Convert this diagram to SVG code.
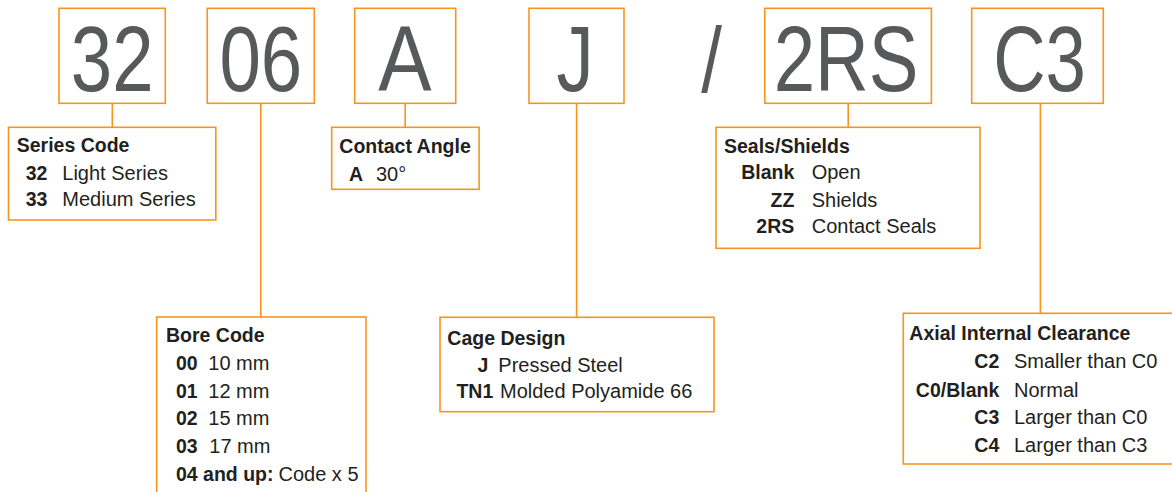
<svg xmlns="http://www.w3.org/2000/svg" width="1172" height="492" viewBox="0 0 1172 492">
<style>
.box{fill:#ffffff;stroke:#f7941d;stroke-width:1.6}
.con{stroke:#f7941d;stroke-width:1.6;fill:none}
.big{font-family:"Liberation Sans",Arial,sans-serif;font-size:93px;fill:#58595b;text-anchor:middle}
.h{font-family:"Liberation Sans",Arial,sans-serif;font-size:19.5px;font-weight:bold;fill:#231f20}
.k{font-family:"Liberation Sans",Arial,sans-serif;font-size:19.5px;font-weight:bold;fill:#231f20}
.kr{font-family:"Liberation Sans",Arial,sans-serif;font-size:19.5px;font-weight:bold;fill:#231f20;text-anchor:end}
.v{font-family:"Liberation Sans",Arial,sans-serif;font-size:20px;fill:#231f20}
</style>
<rect width="1172" height="492" fill="#ffffff"/>
<g id="connectors">
<line class="con" x1="112.3" y1="103.3" x2="112.3" y2="127.3"/>
<line class="con" x1="260.8" y1="103.3" x2="260.8" y2="317"/>
<line class="con" x1="405.2" y1="103.3" x2="405.2" y2="127.3"/>
<line class="con" x1="576.6" y1="103.3" x2="576.6" y2="317.3"/>
<line class="con" x1="848.2" y1="103.3" x2="848.2" y2="127.3"/>
<line class="con" x1="1040.4" y1="103.3" x2="1040.4" y2="313.3"/>
</g>
<g id="code-32">
<rect class="box" x="59" y="8.3" width="106.3" height="95"/>
<text class="big" transform="translate(112.2,90.7) scale(0.8,1)">32</text>
</g>
<g id="code-06">
<rect class="box" x="207.3" y="8.3" width="107" height="95"/>
<text class="big" transform="translate(260.8,90.7) scale(0.8,1)">06</text>
</g>
<g id="code-A">
<rect class="box" x="354.7" y="8.3" width="101" height="95"/>
<text class="big" transform="translate(405,90.7) scale(0.86,1)">A</text>
</g>
<g id="code-J">
<rect class="box" x="529" y="8.3" width="95" height="95"/>
<text class="big" transform="translate(575,90.7) scale(0.8,1)">J</text>
</g>
<g id="slash">
<text class="big" transform="translate(711.7,92) scale(0.8,1)">/</text>
</g>
<g id="code-2RS">
<rect class="box" x="764.8" y="8.3" width="166.6" height="95"/>
<text class="big" transform="translate(846,90.7) scale(0.8,1)">2RS</text>
</g>
<g id="code-C3">
<rect class="box" x="971.7" y="8.3" width="131.6" height="95"/>
<text class="big" transform="translate(1039.5,90.7) scale(0.78,1)">C3</text>
</g>
<g id="series-code">
<rect class="box" x="8.5" y="127.3" width="207.3" height="92.7"/>
<text class="h" x="16.7" y="152.3">Series Code</text>
<text class="k" x="25.7" y="180">32</text><text class="v" x="62.3" y="180">Light Series</text>
<text class="k" x="25.7" y="206">33</text><text class="v" x="62.3" y="206">Medium Series</text>
</g>
<g id="contact-angle">
<rect class="box" x="331.7" y="127.3" width="147.4" height="62"/>
<text class="h" x="339.3" y="153.3">Contact Angle</text>
<text class="k" x="349" y="181">A</text><text class="v" x="376" y="181">30°</text>
</g>
<g id="bore-code">
<rect class="box" x="156.7" y="317" width="209.3" height="190"/>
<text class="h" x="166" y="341.7">Bore Code</text>
<text class="k" x="176" y="370">00</text><text class="v" x="208.3" y="370">10 mm</text>
<text class="k" x="176" y="397.7">01</text><text class="v" x="208.3" y="397.7">12 mm</text>
<text class="k" x="176" y="425">02</text><text class="v" x="208.3" y="425">15 mm</text>
<text class="k" x="176" y="452.7">03</text><text class="v" x="209.3" y="452.7">17 mm</text>
<text class="k" x="176" y="480.7">04 and up:</text><text class="v" x="278.5" y="480.7">Code x 5</text>
</g>
<g id="cage-design">
<rect class="box" x="440" y="317.3" width="274" height="94.4"/>
<text class="h" x="447.3" y="345">Cage Design</text>
<text class="kr" x="488.3" y="372.3">J</text><text class="v" x="498.3" y="372.3">Pressed Steel</text>
<text class="kr" x="493.3" y="398.3">TN1</text><text class="v" x="500" y="398.3">Molded Polyamide 66</text>
</g>
<g id="seals-shields">
<rect class="box" x="716" y="127.3" width="264" height="121"/>
<text class="h" x="724" y="152.7">Seals/Shields</text>
<text class="kr" x="794.3" y="179.3">Blank</text><text class="v" x="811.7" y="179.3">Open</text>
<text class="kr" x="794.3" y="206.7">ZZ</text><text class="v" x="811.7" y="206.7">Shields</text>
<text class="kr" x="794.3" y="233.3">2RS</text><text class="v" x="811.7" y="233.3">Contact Seals</text>
</g>
<g id="axial-internal-clearance">
<rect class="box" x="903.3" y="313.3" width="272" height="150.7"/>
<text class="h" x="909.3" y="340">Axial Internal Clearance</text>
<text class="kr" x="999.3" y="368.3">C2</text><text class="v" x="1014" y="368.3">Smaller than C0</text>
<text class="kr" x="999.3" y="396.7">C0/Blank</text><text class="v" x="1014" y="396.7">Normal</text>
<text class="kr" x="999.3" y="424">C3</text><text class="v" x="1014" y="424">Larger than C0</text>
<text class="kr" x="999.3" y="451.7">C4</text><text class="v" x="1014" y="451.7">Larger than C3</text>
</g>
</svg>
